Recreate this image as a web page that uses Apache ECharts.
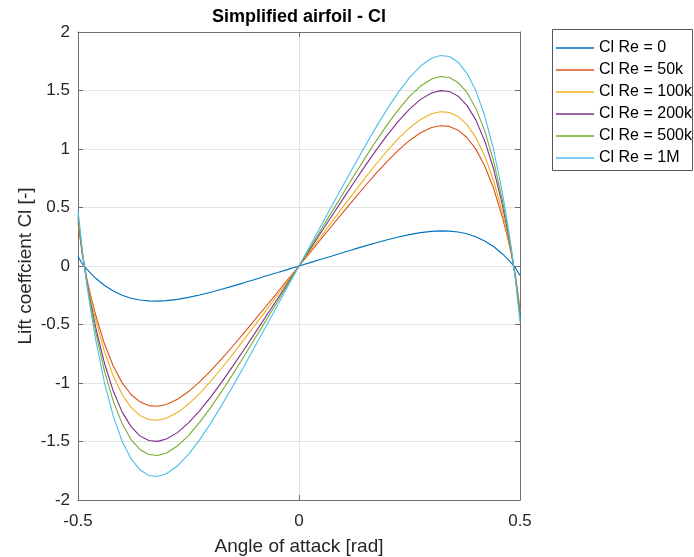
<!DOCTYPE html>
<html>
<head>
<meta charset="utf-8">
<script src="https://cdn.jsdelivr.net/npm/echarts@6/dist/echarts.min.js"></script>
<style>html,body{margin:0;padding:0;background:#fff;}#chart{width:694px;height:557px;}</style>
</head>
<body>
<div id="chart"></div>
<script>
const angle = [-0.5,-0.49,-0.48,-0.47,-0.46,-0.44,-0.42,-0.4,-0.38,-0.36,-0.34,-0.32,-0.3,-0.275,-0.25,-0.225,-0.2,-0.175,-0.15,-0.125,-0.1,-0.075,-0.05,-0.025,
  0,0.025,0.05,0.075,0.1,0.125,0.15,0.175,0.2,0.225,0.25,0.275,0.3,0.32,0.34,0.36,0.38,0.4,0.42,0.44,0.46,0.47,0.48,0.49,0.5];

const clRe0 = [0.080,0.019,-0.027,-0.068,-0.105,-0.167,-0.214,-0.250,-0.275,-0.290,-0.298,-0.300,-0.296,-0.285,-0.268,-0.248,-0.224,-0.199,-0.172,-0.144,-0.115,-0.086,-0.058,-0.029,
  0,0.029,0.058,0.086,0.115,0.144,0.172,0.199,0.224,0.248,0.268,0.285,0.296,0.300,0.298,0.290,0.275,0.250,0.214,0.167,0.105,0.068,0.027,-0.019,-0.080];

const clRe50k = [0.37,0.09,-0.107,-0.272,-0.419,-0.667,-0.857,-0.999,-1.098,-1.161,-1.193,-1.199,-1.184,-1.139,-1.073,-0.991,-0.897,-0.794,-0.686,-0.574,-0.461,-0.346,-0.231,-0.115,
  0,0.115,0.231,0.346,0.461,0.574,0.686,0.794,0.897,0.991,1.073,1.139,1.184,1.199,1.193,1.161,1.098,0.999,0.857,0.667,0.419,0.272,0.107,-0.09,-0.37];

const clRe100k = [0.39,0.095,-0.118,-0.299,-0.461,-0.733,-0.943,-1.099,-1.208,-1.277,-1.313,-1.319,-1.302,-1.253,-1.180,-1.090,-0.986,-0.874,-0.755,-0.632,-0.507,-0.381,-0.254,-0.127,
  0,0.127,0.254,0.381,0.507,0.632,0.755,0.874,0.986,1.090,1.180,1.253,1.302,1.319,1.313,1.277,1.208,1.099,0.943,0.733,0.461,0.299,0.118,-0.095,-0.39];

const clRe200k = [0.42,0.105,-0.134,-0.339,-0.524,-0.833,-1.071,-1.249,-1.373,-1.452,-1.492,-1.499,-1.479,-1.424,-1.341,-1.238,-1.121,-0.993,-0.858,-0.718,-0.576,-0.432,-0.288,-0.144,
  0,0.144,0.288,0.432,0.576,0.718,0.858,0.993,1.121,1.238,1.341,1.424,1.479,1.499,1.492,1.452,1.373,1.249,1.071,0.833,0.524,0.339,0.134,-0.105,-0.42];

const clRe500k = [0.44,0.112,-0.145,-0.367,-0.566,-0.900,-1.157,-1.349,-1.483,-1.568,-1.611,-1.619,-1.598,-1.538,-1.449,-1.337,-1.210,-1.072,-0.926,-0.776,-0.622,-0.467,-0.312,-0.156,
  0,0.156,0.312,0.467,0.622,0.776,0.926,1.072,1.210,1.337,1.449,1.538,1.598,1.619,1.611,1.568,1.483,1.349,1.157,0.900,0.566,0.367,0.145,-0.112,-0.44];

const clRe1M = [0.48,0.125,-0.161,-0.407,-0.629,-1.000,-1.286,-1.499,-1.647,-1.742,-1.790,-1.799,-1.775,-1.709,-1.610,-1.486,-1.345,-1.191,-1.029,-0.862,-0.691,-0.519,-0.346,-0.173,
  0,0.173,0.346,0.519,0.691,0.862,1.029,1.191,1.345,1.486,1.610,1.709,1.775,1.799,1.790,1.742,1.647,1.499,1.286,1.000,0.629,0.407,0.161,-0.125,-0.48];

const seriesNames = ['Cl Re = 0','Cl Re = 50k','Cl Re = 100k','Cl Re = 200k','Cl Re = 500k','Cl Re = 1M'];
const seriesValues = [clRe0, clRe50k, clRe100k, clRe200k, clRe500k, clRe1M];
const colors = ['#0072BD','#D95319','#EDB120','#7E2F8E','#77AC30','#4DBEEE'];

const FONT = 'Liberation Sans, Arial, Helvetica, sans-serif';
const axisColor = '#6e6e6e';
const textColor = '#262626';
const gridColor = '#e3e3e3';

const chart = echarts.init(document.getElementById('chart'), null, {renderer: 'canvas'});

const series = seriesNames.map((name, i) => ({
  name: name,
  type: 'line',
  xAxisIndex: 0,
  yAxisIndex: 0,
  data: angle.map((a, j) => [a, seriesValues[i][j]]),
  showSymbol: false,
  symbol: 'none',
  smooth: false,
  lineStyle: {width: 1.1, color: colors[i]},
  itemStyle: {color: colors[i]},
  emphasis: {disabled: true},
  animation: false
}));

const option = {
  animation: false,
  backgroundColor: '#ffffff',
  textStyle: {fontFamily: FONT},
  grid: {left: 78, right: 174, top: 32, bottom: 57, containLabel: false, outerBoundsMode: 'none'},
  graphic: [
    {
      type: 'text', x: 299, y: 8, z: 10,
      style: {text: 'Simplified airfoil - Cl', font: 'bold 18px ' + FONT, fill: '#000', textAlign: 'center', textVerticalAlign: 'top'}
    },
    {
      type: 'rect', z: 5,
      shape: {x: 552.5, y: 29.5, width: 140, height: 141},
      style: {fill: '#ffffff', stroke: '#555555', lineWidth: 1}
    }
  ],
  legend: {
    orient: 'vertical',
    left: 556,
    top: 40,
    z: 10,
    icon: 'rect',
    itemWidth: 38,
    itemHeight: 1.5,
    itemGap: 6,
    padding: 0,
    textStyle: {fontFamily: FONT, fontSize: 16, color: '#000'},
    data: seriesNames
  },
  xAxis: [
    {
      type: 'value', position: 'bottom', min: -0.5, max: 0.5, interval: 0.5,
      name: 'Angle of attack [rad]', nameLocation: 'middle', nameGap: 37,
      nameTextStyle: {fontFamily: FONT, fontSize: 19, color: textColor},
      axisLine: {show: true, onZero: false, lineStyle: {color: axisColor, width: 1}},
      axisTick: {show: true, inside: true, length: 5, lineStyle: {color: axisColor}},
      axisLabel: {fontFamily: FONT, fontSize: 17, color: textColor, margin: 13},
      splitLine: {show: true, lineStyle: {color: gridColor, width: 1}}
    },
    {
      type: 'value', position: 'top', min: -0.5, max: 0.5, interval: 0.5,
      axisLine: {show: true, onZero: false, lineStyle: {color: axisColor, width: 1}},
      axisTick: {show: true, inside: true, length: 5, lineStyle: {color: axisColor}},
      axisLabel: {show: false},
      splitLine: {show: false}
    }
  ],
  yAxis: [
    {
      type: 'value', position: 'left', min: -2, max: 2, interval: 0.5,
      name: 'Lift coeffcient Cl [-]', nameLocation: 'middle', nameGap: 43, nameMoveOverlap: false,
      nameTextStyle: {fontFamily: FONT, fontSize: 19, color: textColor},
      axisLine: {show: true, onZero: false, lineStyle: {color: axisColor, width: 1}},
      axisTick: {show: true, inside: true, length: 5, lineStyle: {color: axisColor}},
      axisLabel: {fontFamily: FONT, fontSize: 17, color: textColor, margin: 8},
      splitLine: {show: true, lineStyle: {color: gridColor, width: 1}}
    },
    {
      type: 'value', position: 'right', min: -2, max: 2, interval: 0.5,
      axisLine: {show: true, onZero: false, lineStyle: {color: axisColor, width: 1}},
      axisTick: {show: true, inside: true, length: 5, lineStyle: {color: axisColor}},
      axisLabel: {show: false},
      splitLine: {show: false}
    }
  ],
  series: series
};

chart.setOption(option);
</script>
</body>
</html>
